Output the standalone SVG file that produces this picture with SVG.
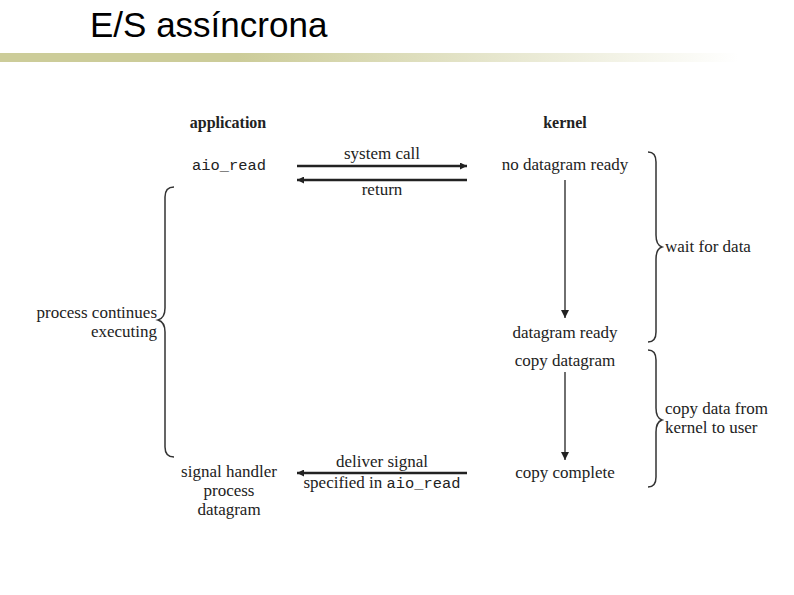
<svg xmlns="http://www.w3.org/2000/svg" width="794" height="595" viewBox="0 0 794 595">
<defs>
<linearGradient id="bar" x1="0" x2="1" y1="0" y2="0">
<stop offset="0" stop-color="#cccc99"/><stop offset="0.3" stop-color="#cccc99"/><stop offset="0.93" stop-color="#ffffff"/>
</linearGradient>
<marker id="ah" viewBox="0 0 10 10" refX="10" refY="5" markerWidth="16" markerHeight="7" orient="auto" markerUnits="userSpaceOnUse"><path d="M0,0 L10,5 L0,10 Z" fill="#222"/></marker>
<marker id="av" viewBox="0 0 10 10" refX="10" refY="5" markerWidth="12" markerHeight="8" orient="auto" markerUnits="userSpaceOnUse"><path d="M0,0 L10,5 L0,10 Z" fill="#222"/></marker>
</defs>
<style>
.t{font-family:"Liberation Serif",serif;font-size:17px;fill:#222;text-anchor:middle}
.b{font-weight:bold;font-size:16px}
.m{font-family:"Liberation Mono",monospace;font-size:15.4px}
.s{text-anchor:start}
.e{text-anchor:end}
.ln{stroke:#222;stroke-width:2.5;fill:none}
.br{stroke:#333;stroke-width:1.5;fill:none}
</style>
<rect width="794" height="595" fill="#fff"/>
<text x="90" y="37" font-family="Liberation Sans,Arial,sans-serif" font-size="35" fill="#000">E/S assíncrona</text>
<rect x="0" y="53" width="794" height="9" fill="url(#bar)"/>
<g id="headers">
<text class="t b" x="228" y="128">application</text>
<text class="t b" x="565" y="128">kernel</text>
</g>
<g id="app">
<text class="t m" x="229" y="170">aio_read</text>
<text class="t e" x="157" y="318">process continues</text>
<text class="t e" x="157" y="337">executing</text>
<text class="t" x="229" y="477">signal handler</text>
<text class="t" x="229" y="496">process</text>
<text class="t" x="229" y="515">datagram</text>
</g>
<g id="kernel">
<text class="t" x="565" y="170">no datagram ready</text>
<text class="t" x="565" y="338">datagram ready</text>
<text class="t" x="565" y="366">copy datagram</text>
<text class="t" x="565" y="478">copy complete</text>
<text class="t s" x="665" y="252">wait for data</text>
<text class="t s" x="665" y="414">copy data from</text>
<text class="t s" x="665" y="433">kernel to user</text>
</g>
<g id="connectors">
<line class="ln" x1="297" y1="166" x2="467" y2="166" marker-end="url(#ah)"/>
<text class="t" x="382" y="159">system call</text>
<line class="ln" x1="467" y1="180" x2="297" y2="180" marker-end="url(#ah)"/>
<text class="t" x="382" y="195">return</text>
<line x1="565" y1="180" x2="565" y2="318" stroke="#222" stroke-width="1.3" marker-end="url(#av)"/>
<line x1="565" y1="372" x2="565" y2="460" stroke="#222" stroke-width="1.3" marker-end="url(#av)"/>
<line class="ln" x1="467" y1="473" x2="297" y2="473" marker-end="url(#ah)"/>
<text class="t" x="382" y="467">deliver signal</text>
<text class="t" x="382" y="488"><tspan>specified in </tspan><tspan class="m">aio_read</tspan></text>
</g>
<g id="braces">
<path class="br" d="M174,187 Q165,187 165,197 L165,308 Q165,318 158,320 Q165,322 165,332 L165,447 Q165,457 174,457"/>
<path class="br" d="M648,152 Q656,152 656,162 L656,235 Q656,245 662,247 Q656,249 656,259 L656,332 Q656,342 648,342"/>
<path class="br" d="M648,350 Q656,350 656,360 L656,408 Q656,418 662,420 Q656,422 656,432 L656,477 Q656,487 648,487"/>
</g>
</svg>
